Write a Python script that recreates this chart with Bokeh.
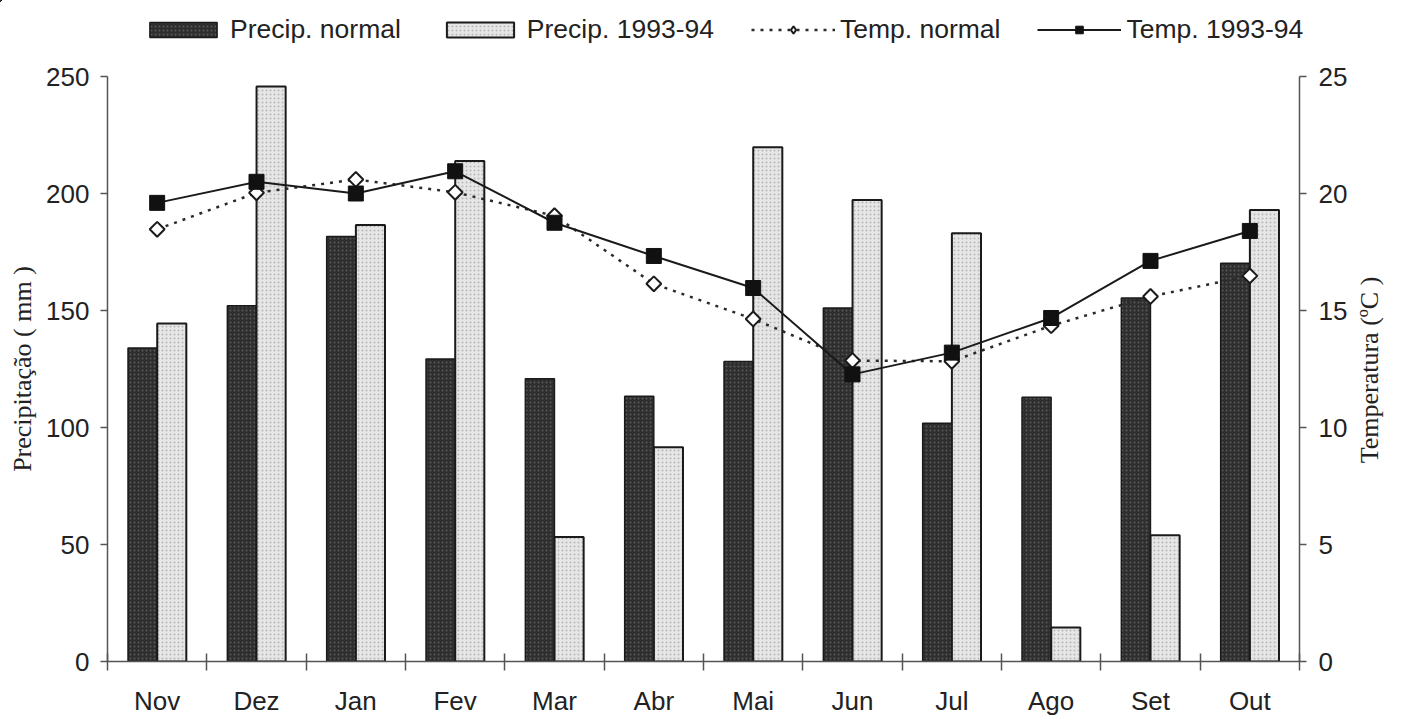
from bokeh.plotting import figure
from bokeh.models import (ColumnDataSource, Range1d, LinearAxis, FixedTicker,
                          Legend, LegendItem)
from bokeh.layouts import column, row
from bokeh.transform import dodge
from bokeh.embed import file_html
from bokeh.resources import INLINE
import numpy as np

months = ["Nov", "Dez", "Jan", "Fev", "Mar", "Abr", "Mai", "Jun", "Jul", "Ago", "Set", "Out"]
precip_normal = [134.0, 152.0, 181.6, 129.3, 120.8, 113.4, 128.2, 151.1, 101.8, 112.9, 155.3, 170.2]
precip_9394 = [144.4, 245.7, 186.5, 213.9, 53.2, 91.6, 219.8, 197.2, 183.0, 14.5, 54.0, 192.9]
temp_normal = [18.47, 20.03, 20.6, 20.05, 19.05, 16.14, 14.64, 12.86, 12.83, 14.35, 15.6, 16.48]
temp_9394 = [19.6, 20.5, 20.0, 20.95, 18.75, 17.33, 15.96, 12.27, 13.2, 14.68, 17.12, 18.4]

xpos = np.arange(len(months)) + 0.5
src = ColumnDataSource(dict(x=xpos, pn=precip_normal, p94=precip_9394,
                            tn=temp_normal, t94=temp_9394))

TXT = "#222222"
AX = "#555555"
SANS = "Liberation Sans"
SERIF = "Liberation Serif"
W = 1400
MAIN_W = 1350

DARK = dict(fill_color="#2e2e2e", line_color="#1a1a1a", line_width=1.5,
            hatch_pattern="dot", hatch_color="#5a5a5a", hatch_scale=4, hatch_weight=1)
LIGHT = dict(fill_color="#e6e6e6", line_color="#1a1a1a", line_width=2,
             hatch_pattern="dot", hatch_color="#b8b8b8", hatch_scale=4, hatch_weight=1)
TN_LINE = dict(line_color="#2a2a2a", line_width=2.5, line_dash="3 6")
T94_LINE = dict(line_color="#1a1a1a", line_width=2)

# ---------------- main chart ----------------
p = figure(width=MAIN_W, height=658, output_backend="svg", toolbar_location=None,
           x_range=Range1d(0, 12), y_range=Range1d(0, 250),
           min_border_left=107, min_border_right=MAIN_W - 1299, min_border_top=16,
           min_border_bottom=55)
p.outline_line_color = None
p.xgrid.visible = False
p.ygrid.visible = False
p.background_fill_color = "white"
p.border_fill_color = "white"
p.extra_y_ranges = {"temp": Range1d(0, 25)}

bw = 0.293
p.vbar(x=dodge("x", -0.147, range=p.x_range), top="pn", width=bw, source=src, **DARK)
p.vbar(x=dodge("x", 0.147, range=p.x_range), top="p94", width=bw, source=src, **LIGHT)
p.line("x", "tn", source=src, y_range_name="temp", **TN_LINE)
p.scatter("x", "tn", source=src, y_range_name="temp", marker="square",
          angle=np.pi / 4, size=10.5, fill_color="white", line_color="#1a1a1a", line_width=2)
p.line("x", "t94", source=src, y_range_name="temp", **T94_LINE)
p.scatter("x", "t94", source=src, y_range_name="temp", marker="square",
          size=15, fill_color="#111111", line_color="#111111", line_width=1)

# x axis: ticks at category boundaries, labels at centres
xa = p.xaxis[0]
xa.ticker = FixedTicker(ticks=list(xpos), minor_ticks=list(range(13)))
xa.major_label_overrides = {float(x): m for x, m in zip(xpos, months)}
xa.major_tick_in = 0
xa.major_tick_out = 0
xa.minor_tick_in = 8
xa.minor_tick_out = 9
xa.minor_tick_line_color = AX
xa.minor_tick_line_width = 1.5
xa.axis_line_color = AX
xa.axis_line_width = 1.5
xa.major_label_text_font = SANS
xa.major_label_text_font_size = "26px"
xa.major_label_text_color = TXT
xa.major_label_standoff = 15

ya = p.yaxis[0]
ya.ticker = FixedTicker(ticks=[0, 50, 100, 150, 200, 250])
ya.minor_tick_line_color = None
ya.major_tick_in = 0
ya.major_tick_out = 7
ya.major_tick_line_color = AX
ya.major_tick_line_width = 1.5
ya.axis_line_color = AX
ya.axis_line_width = 1.5
ya.major_label_text_font = SANS
ya.major_label_text_font_size = "26px"
ya.major_label_text_color = TXT
ya.major_label_standoff = 11
ya.axis_label = "Precipitação ( mm )"
ya.axis_label_text_font = SERIF
ya.axis_label_text_font_size = "26px"
ya.axis_label_text_font_style = "normal"
ya.axis_label_text_color = TXT
ya.axis_label_standoff = 6

ra = LinearAxis(y_range_name="temp", ticker=FixedTicker(ticks=[0, 5, 10, 15, 20, 25]))
ra.minor_tick_line_color = None
ra.major_tick_in = 0
ra.major_tick_out = 7
ra.major_tick_line_color = AX
ra.major_tick_line_width = 1.5
ra.axis_line_color = AX
ra.axis_line_width = 1.5
ra.major_label_text_font = SANS
ra.major_label_text_font_size = "26px"
ra.major_label_text_color = TXT
ra.major_label_standoff = 12
p.add_layout(ra, "right")

# ---------------- right-hand axis title (reads bottom to top) ----------------
rp = figure(width=W - MAIN_W, height=658, output_backend="svg", toolbar_location=None,
            x_range=Range1d(0, 1), y_range=Range1d(0, 25), x_axis_type=None,
            min_border_left=33, min_border_right=0, min_border_top=16, min_border_bottom=55)
rp.outline_line_color = None
rp.xgrid.visible = False
rp.ygrid.visible = False
rp.background_fill_color = "white"
rp.border_fill_color = "white"
rya = rp.yaxis[0]
rya.ticker = FixedTicker(ticks=[])
rya.axis_line_color = None
rya.major_tick_line_color = None
rya.minor_tick_line_color = None
rya.major_tick_in = 0
rya.major_tick_out = 0
rya.minor_tick_in = 0
rya.minor_tick_out = 0
rya.major_label_standoff = 0
rya.axis_label = "Temperatura (ºC )"
rya.axis_label_text_font = SERIF
rya.axis_label_text_font_size = "26px"
rya.axis_label_text_font_style = "normal"
rya.axis_label_text_color = TXT
rya.axis_label_standoff = 0

# ---------------- legend strip (same series, drawn out of view) ----------------
lp = figure(width=W, height=60, output_backend="svg", toolbar_location=None,
            x_range=Range1d(100, 101), y_range=Range1d(-1000, -999),
            x_axis_type=None, y_axis_type=None,
            min_border_left=0, min_border_right=0, min_border_top=0, min_border_bottom=0)
lp.outline_line_color = None
lp.background_fill_color = "white"
lp.border_fill_color = "white"
leg_x = 141
try:
    lp.frame_align = False
    p.frame_align = False
    rp.frame_align = False
except Exception:
    leg_x = 33
l_pn = lp.vbar(x="x", top="pn", width=bw, source=src, **DARK)
l_p94 = lp.vbar(x="x", top="p94", width=bw, source=src, **LIGHT)
l_tn_line = lp.line("x", "tn", source=src, **TN_LINE)
l_tn_pts = lp.scatter("x", "tn", source=src, marker="diamond", size=15,
                      fill_color="white", line_color="#1a1a1a", line_width=2)
l_t94_line = lp.line("x", "t94", source=src, **T94_LINE)
l_t94_pts = lp.scatter("x", "t94", source=src, marker="square", size=15,
                       fill_color="#111111", line_color="#111111", line_width=1)

legend = Legend(items=[
    LegendItem(label="Precip. normal", renderers=[l_pn]),
    LegendItem(label="Precip. 1993-94", renderers=[l_p94]),
    LegendItem(label="Temp. normal", renderers=[l_tn_line, l_tn_pts]),
    LegendItem(label="Temp. 1993-94", renderers=[l_t94_line, l_t94_pts]),
], orientation="horizontal", location=(leg_x, 15))
legend.padding = 0
legend.margin = 0
legend.spacing = 37
legend.label_standoff = 5
legend.glyph_width = 84
legend.glyph_height = 19
legend.border_line_alpha = 0
legend.background_fill_alpha = 0
legend.label_text_font = SANS
legend.label_text_font_size = "26.5px"
legend.label_text_color = TXT
lp.add_layout(legend, "center")

layout = column(lp, row(p, rp, spacing=0), spacing=0)
open("out.html", "w").write(file_html(layout, INLINE))
